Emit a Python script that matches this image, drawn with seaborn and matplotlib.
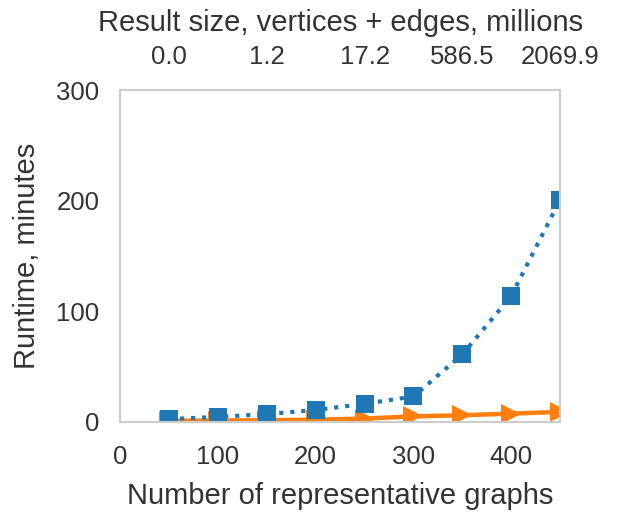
import matplotlib
matplotlib.use("Agg")
import matplotlib.pyplot as plt
import seaborn as sns
import pandas as pd

# Number of representative graphs
graphs = [50, 100, 150, 200, 250, 300, 350, 400, 450]
# Runtime in minutes for the two approaches
runtime_full = [2.5, 4.5, 7.0, 10.8, 16.3, 23.0, 61.0, 114.0, 201.0]
runtime_fast = [1.0, 1.2, 1.5, 2.0, 3.0, 5.0, 6.0, 7.5, 9.0]
# Result size on the secondary axis
top_ticks = [50, 150, 250, 350, 450]
top_labels = ["0.0", "1.2", "17.2", "586.5", "2069.9"]

sns.set_theme(style="white")
plt.rcParams["font.family"] = ["Liberation Sans", "DejaVu Sans"]

text_color = "#333333"
label_size = 21
tick_size = 18.5

df = pd.DataFrame({"graphs": graphs, "full": runtime_full, "fast": runtime_fast})

fig = plt.figure(figsize=(6.19, 5.12), dpi=100)
ax = fig.add_axes([0.194, 0.176, 0.711, 0.648])

sns.lineplot(data=df, x="graphs", y="fast", ax=ax, color="#ff7f0e",
             marker=">", markersize=14.5, markeredgewidth=0, linewidth=3.2,
             linestyle="-")
sns.lineplot(data=df, x="graphs", y="full", ax=ax, color="#1f77b4",
             marker="s", markersize=13, markeredgewidth=0, linewidth=3,
             linestyle=":")

ax.set_xlim(0, 450)
ax.set_ylim(0, 300)
ax.set_xticks([0, 100, 200, 300, 400])
ax.set_yticks([0, 100, 200, 300])
ax.set_xlabel("Number of representative graphs", fontsize=label_size,
              color=text_color, labelpad=9)
ax.set_ylabel("Runtime, minutes", fontsize=label_size, color=text_color,
              labelpad=11)
ax.tick_params(axis="x", labelsize=tick_size, colors=text_color, length=0, pad=17)
ax.tick_params(axis="y", labelsize=tick_size, colors=text_color, length=0, pad=15)

for sp in ax.spines.values():
    sp.set_color("#cccccc")
    sp.set_linewidth(1.5)

ax2 = ax.twiny()
ax2.set_xlim(ax.get_xlim())
ax2.set_xticks(top_ticks)
ax2.set_xticklabels(top_labels)
ax2.set_xlabel("Result size, vertices + edges, millions", fontsize=label_size,
               color=text_color, labelpad=10)
ax2.tick_params(axis="x", labelsize=tick_size, colors=text_color, length=0, pad=15)
for sp in ax2.spines.values():
    sp.set_visible(False)

fig.savefig("out.png", dpi=100)
